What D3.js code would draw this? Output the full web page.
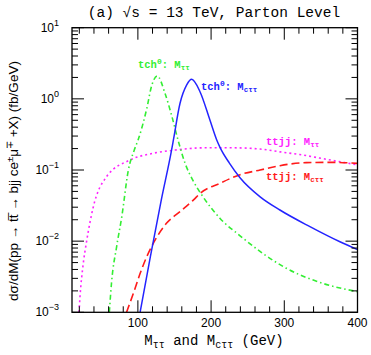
<!DOCTYPE html>
<html>
<head>
<meta charset="utf-8">
<script src="https://d3js.org/d3.v7.min.js"></script>
<style>
  body { margin: 0; background: #fff; }
  svg { display: block; }
</style>
</head>
<body>
<div id="chart"></div>
<script>
// data (GeV, fb/GeV)
const greenX = [61, 64, 71, 78, 87, 95, 100.6, 112, 119, 126.5, 137, 146, 155, 165, 175, 189, 212, 240, 270, 302, 350, 400];
const greenY = [0.001, 0.0026, 0.0084, 0.022, 0.1, 0.19, 0.27, 0.72, 1.55, 2.1, 1.2, 0.59, 0.26, 0.12, 0.072, 0.042, 0.021, 0.0118, 0.0068, 0.0042, 0.0026, 0.00195];

const blueX = [103, 117, 132, 146, 148.4, 157.5, 166.7, 173.5, 185, 198.5, 208, 212, 225, 239.5, 267, 294, 335, 376, 400];
const blueY = [0.001, 0.006, 0.038, 0.19, 0.26, 0.86, 1.57, 1.88, 1.25, 0.5, 0.26, 0.21, 0.125, 0.078, 0.042, 0.0274, 0.016, 0.0098, 0.0076];

const magX = [19.6, 21, 25, 30, 39, 57, 89, 121, 150, 190, 230, 267, 294, 321, 360, 400];
const magY = [0.001, 0.0017, 0.0045, 0.01, 0.03, 0.08, 0.138, 0.172, 0.19, 0.205, 0.205, 0.197, 0.18, 0.165, 0.14, 0.118];

const redX = [84.5, 95, 103, 112, 125, 139, 157.5, 176, 185, 212, 239.5, 267, 294, 330, 365, 400];
const redY = [0.001, 0.002, 0.0035, 0.006, 0.011, 0.0178, 0.026, 0.038, 0.047, 0.065, 0.086, 0.1, 0.115, 0.127, 0.128, 0.124];

const xMajor = [100, 200, 300, 400];
const yDecades = [-3, -2, -1, 0, 1];

const W = 371, H = 355;
const plot = { left: 72, right: 357.5, top: 27.7, bottom: 312.3 };

const svg = d3.select("#chart").append("svg")
  .attr("width", W).attr("height", H);

const x = d3.scaleLinear().domain([10, 400]).range([plot.left, plot.right]);
const y = d3.scaleLog().domain([1e-3, 10]).range([plot.bottom, plot.top]);

const mono = "'Liberation Mono', 'Courier New', monospace";
const sans = "'Liberation Sans', Arial, sans-serif";

// clip
svg.append("clipPath").attr("id", "clip")
  .append("rect")
  .attr("x", plot.left).attr("y", plot.top)
  .attr("width", plot.right - plot.left).attr("height", plot.bottom - plot.top);

// curves
const series = [
  { xs: magX, ys: magY, color: "#ff22ff", dash: "2,3", width: 1.6 },
  { xs: redX, ys: redY, color: "#ff1a1a", dash: "8,4", width: 1.6 },
  { xs: greenX, ys: greenY, color: "#33ee33", dash: "5,3,1.5,3", width: 1.6 },
  { xs: blueX, ys: blueY, color: "#2424ff", dash: null, width: 1.5 },
];

const line = d3.line()
  .x(d => x(d[0]))
  .y(d => y(d[1]))
  .curve(d3.curveMonotoneX);

const curves = svg.append("g").attr("clip-path", "url(#clip)");
series.forEach(s => {
  curves.append("path")
    .datum(s.xs.map((v, i) => [v, s.ys[i]]))
    .attr("d", line)
    .attr("fill", "none")
    .attr("stroke", s.color)
    .attr("stroke-width", s.width)
    .attr("stroke-dasharray", s.dash);
});

// frame
svg.append("rect")
  .attr("x", plot.left).attr("y", plot.top)
  .attr("width", plot.right - plot.left).attr("height", plot.bottom - plot.top)
  .attr("fill", "none").attr("stroke", "#000").attr("stroke-width", 1.3);

// ticks
const ticks = svg.append("g").attr("stroke", "#000").attr("stroke-width", 1);
const xMinor = d3.range(20, 401, 20).filter(v => !xMajor.includes(v));
function xTick(v, len) {
  ticks.append("line").attr("x1", x(v)).attr("x2", x(v))
    .attr("y1", plot.bottom).attr("y2", plot.bottom - len);
  ticks.append("line").attr("x1", x(v)).attr("x2", x(v))
    .attr("y1", plot.top).attr("y2", plot.top + len);
}
xMajor.forEach(v => xTick(v, 12));
xMinor.forEach(v => xTick(v, 6));

function yTick(v, len) {
  ticks.append("line").attr("y1", y(v)).attr("y2", y(v))
    .attr("x1", plot.left).attr("x2", plot.left + len);
  ticks.append("line").attr("y1", y(v)).attr("y2", y(v))
    .attr("x1", plot.right).attr("x2", plot.right - len);
}
yDecades.forEach(e => {
  yTick(Math.pow(10, e), 12);
  if (e < 1) d3.range(2, 10).forEach(m => yTick(m * Math.pow(10, e), 6));
});

// x tick labels
svg.append("g").selectAll("text")
  .data(xMajor).enter().append("text")
  .attr("x", d => x(d)).attr("y", 327)
  .attr("text-anchor", "middle")
  .style("font-family", sans).style("font-size", "12px")
  .text(d => d);

// y tick labels
const yl = svg.append("g").selectAll("text")
  .data(yDecades).enter().append("text")
  .attr("x", 59).attr("y", d => y(Math.pow(10, d)) + 4)
  .attr("text-anchor", "end")
  .style("font-family", sans).style("font-size", "12px");
yl.append("tspan").text("10");
yl.append("tspan").attr("dy", -6).style("font-size", "9px")
  .text(d => d < 0 ? "\u2212" + (-d) : String(d));

// title
const title = svg.append("text")
  .attr("x", 214).attr("y", 17)
  .attr("text-anchor", "middle")
  .style("font-family", mono).style("font-size", "14.5px");
title.append("tspan").text("(a) \u221As");
title.append("tspan").text("  = 13 TeV, Parton Level");

// x axis title
const xt = svg.append("text")
  .attr("x", 214).attr("y", 345)
  .attr("text-anchor", "middle")
  .style("font-family", mono).style("font-size", "14px");
xt.append("tspan").text("M");
xt.append("tspan").attr("dy", 3).style("font-size", "10px").text("\u03C4\u03C4");
xt.append("tspan").attr("dy", -3).text(" and M");
xt.append("tspan").attr("dy", 3).style("font-size", "10px").text("c\u03C4\u03C4");
xt.append("tspan").attr("dy", -3).text(" (GeV)");

// y axis title
const yt = svg.append("text")
  .attr("transform", `translate(18, 181) rotate(-90)`)
  .attr("text-anchor", "middle")
  .style("font-family", sans).style("font-size", "13.5px");
yt.append("tspan").text("d\u03C3/dM(pp \u2192 tt\u0305 \u2192 bjj ce");
yt.append("tspan").attr("dy", -5).style("font-size", "9.5px").text("\u00B1");
yt.append("tspan").attr("dy", 5).text("\u03BC");
yt.append("tspan").attr("dy", -5).style("font-size", "9.5px").text("\u2213");
yt.append("tspan").attr("dy", 5).text(" +X) (fb/GeV)");

// curve labels
const labels = [
  { text: "tch", sup: "0", m: ": M", sub: "\u03C4\u03C4", x: 138, y: 68, color: "#33ee33" },
  { text: "tch", sup: "0", m: ": M", sub: "c\u03C4\u03C4", x: 201, y: 90, color: "#2424ff" },
  { text: "ttjj", sup: "", m: ": M", sub: "\u03C4\u03C4", x: 266, y: 145, color: "#ff22ff" },
  { text: "ttjj", sup: "", m: ": M", sub: "c\u03C4\u03C4", x: 266, y: 180, color: "#ff1a1a" },
];
labels.forEach(l => {
  const t = svg.append("text")
    .attr("x", l.x).attr("y", l.y)
    .attr("fill", l.color)
    .style("font-family", mono).style("font-size", "10.5px").style("font-weight", "bold");
  t.append("tspan").text(l.text);
  if (l.sup) {
    t.append("tspan").attr("dy", -4).style("font-size", "8px").text(l.sup);
    t.append("tspan").attr("dy", 4).text(l.m);
  } else {
    t.append("tspan").text(l.m);
  }
  t.append("tspan").attr("dy", 2).style("font-size", "7.5px").text(l.sub);
});
</script>
</body>
</html>
